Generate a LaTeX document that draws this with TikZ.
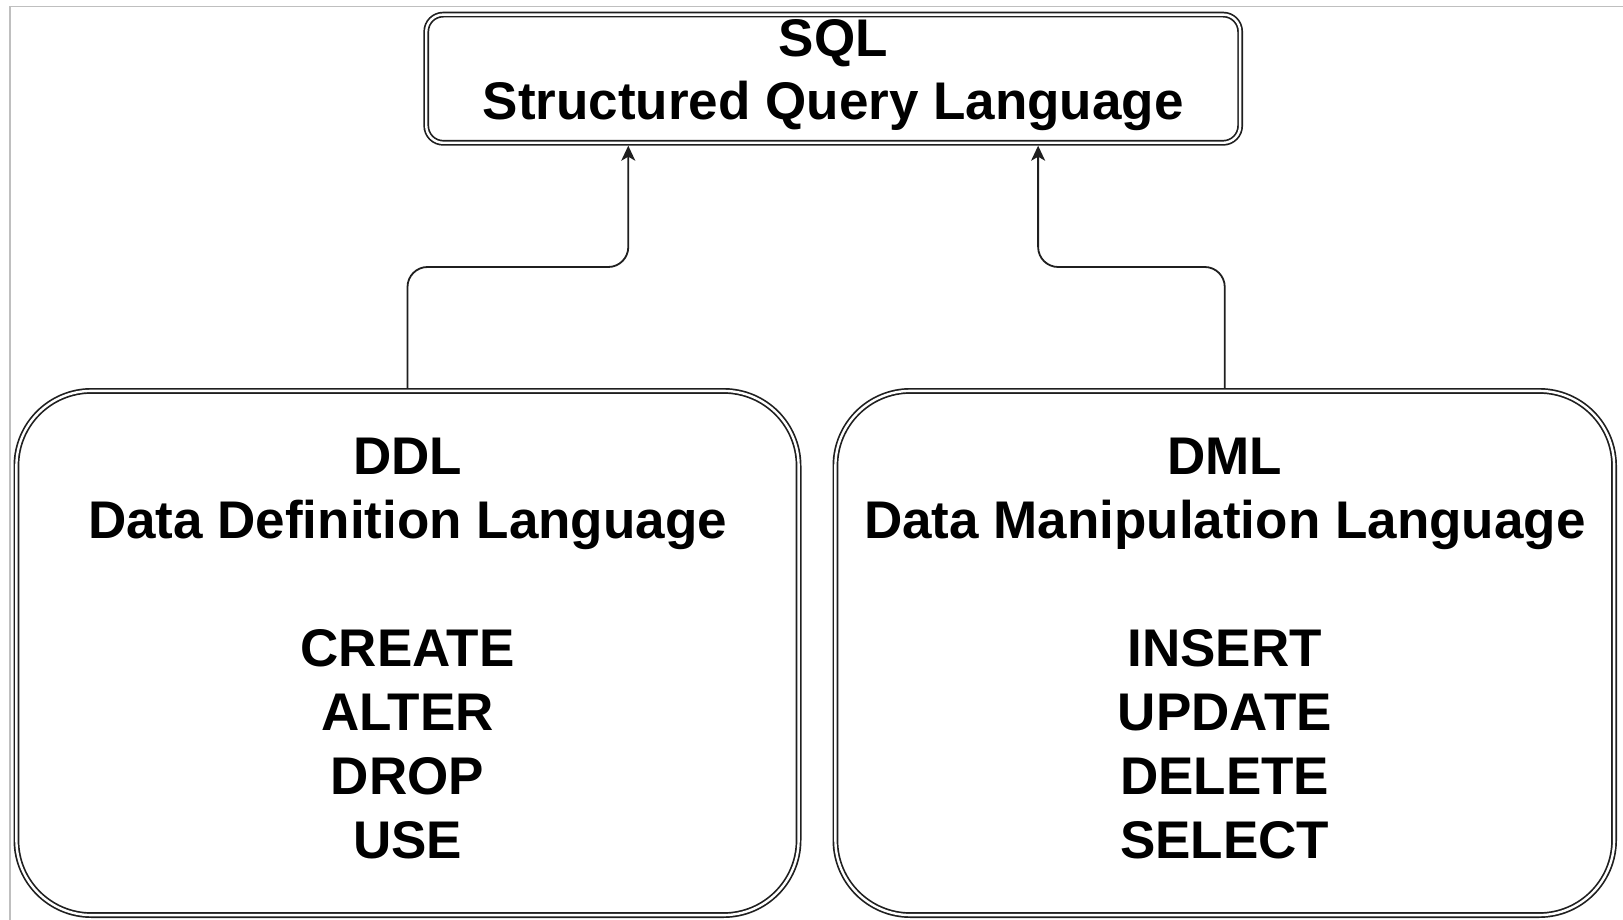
\documentclass[tikz,border=0pt]{standalone}
\usepackage{fontspec}
\setmainfont{Liberation Sans}
\usetikzlibrary{arrows.meta,calc}

\tikzset{
  inkcol/.style={draw=black!88},
  framebox/.style={inkcol, line width=1.7pt, double=white, double distance=2.4pt,
    fill=white, inner sep=0pt, outer sep=2.9pt},
  topbox/.style={framebox, rounded corners=17pt,
    minimum width=813.9pt, minimum height=128.2pt},
  groupbox/.style={framebox, rounded corners=75pt, minimum height=524.2pt},
  toptext/.style={anchor=base, inner sep=0pt,
    font=\fontsize{53}{63}\selectfont\bfseries},
  grouptext/.style={anchor=base, inner sep=0pt,
    font=\fontsize{53}{64}\selectfont\bfseries},
  conn/.style={inkcol, line width=1.8pt, rounded corners=20pt,
    -{Stealth[length=15pt, width=14pt, inset=4pt]}},
}

\begin{document}
\begin{tikzpicture}[x=1pt, y=-1pt]
  % page area and the light frame along its top and left edges
  \useasboundingbox (0,0) rectangle (1623,920);
  \fill[white] (0,0) rectangle (1623,920);
  \draw[black!25, line width=1.5pt] (10,930) -- (10,6.5) -- (1630,6.5);

  % boxes
  \node[topbox] (sql) at (833.2,78.7) {};
  \node[groupbox, minimum width=782.2pt] (ddl) at (407.5,653) {};
  \node[groupbox, minimum width=778.7pt] (dml) at (1224.75,653) {};

  % box texts
  \node[toptext] (sqltext) at (833.2,57) {%
    \begin{tabular}[t]{@{}c@{}}SQL\\Structured Query Language\end{tabular}};
  \node[grouptext] (ddltext) at (407.5,474) {%
    \begin{tabular}[t]{@{}c@{}}DDL\\Data Definition Language\\ \\CREATE\\ALTER\\DROP\\USE\end{tabular}};
  \node[grouptext] (dmltext) at (1224.75,474) {%
    \begin{tabular}[t]{@{}c@{}}DML\\Data Manipulation Language\\ \\INSERT\\UPDATE\\DELETE\\SELECT\end{tabular}};

  % connectors into the SQL box
  \coordinate (inL) at ($(sql.south west)!0.25!(sql.south east)$);
  \coordinate (inR) at ($(sql.south west)!0.75!(sql.south east)$);
  \coordinate (bend) at (0,267);
  \draw[conn] (ddl.north) -- (ddl.north |- bend) -- (inL |- bend) -- (inL);
  \draw[conn] (dml.north) -- (dml.north |- bend) -- (inR |- bend) -- (inR);
\end{tikzpicture}
\end{document}
